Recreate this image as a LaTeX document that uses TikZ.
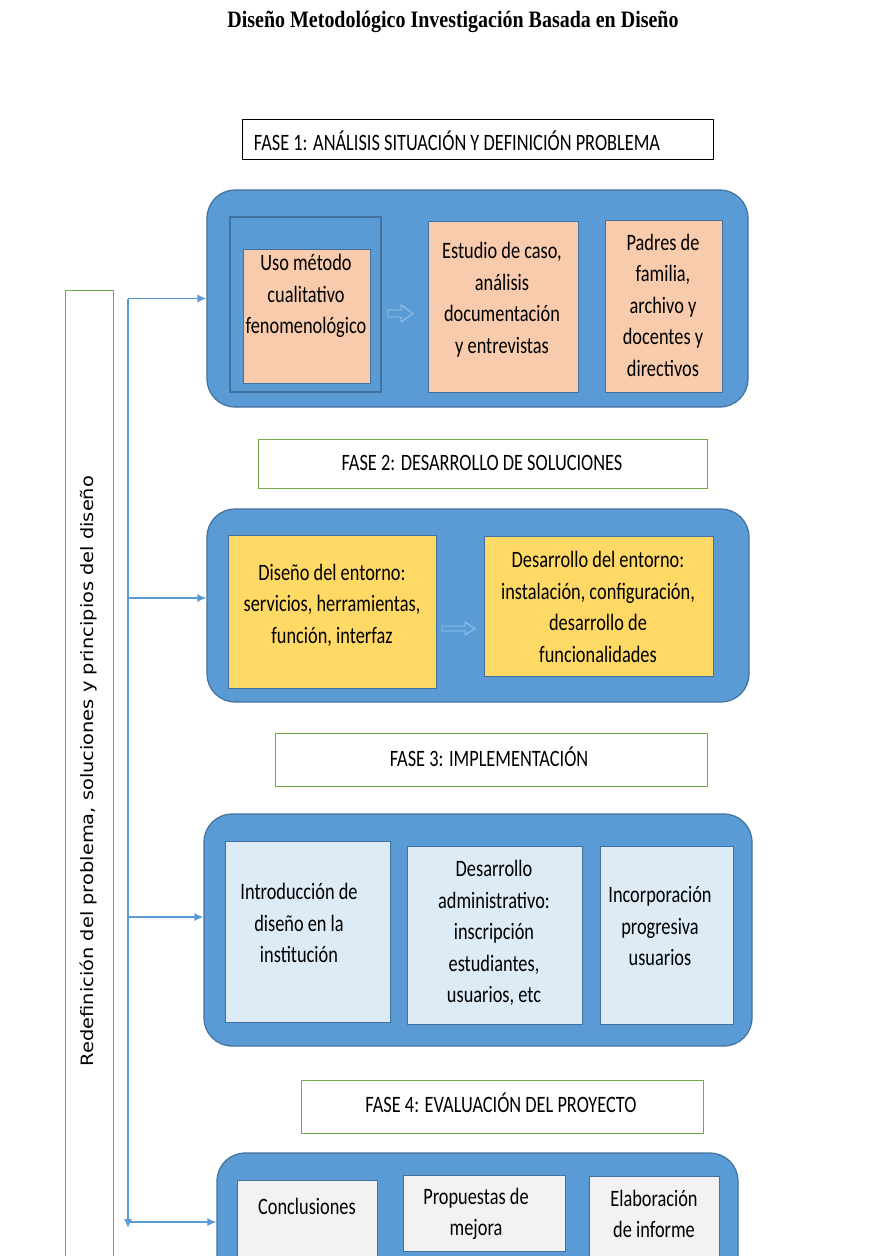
\documentclass[tikz,border=0pt]{standalone}
\usepackage{fontspec}
\setmainfont{Carlito}[FakeStretch=0.78]
\newfontfamily\titlefont{Liberation Serif}[FakeStretch=0.85]
\newfontfamily\sidefont{DejaVu Sans}[FakeStretch=1.14]
\usetikzlibrary{arrows.meta}
\definecolor{bfill}{HTML}{5B9BD5}
\definecolor{bdark}{HTML}{41719C}
\definecolor{salmon}{HTML}{F8CBAD}
\definecolor{yell}{HTML}{FFD966}
\definecolor{lblue}{HTML}{DDEBF7}
\definecolor{lgrey}{HTML}{F2F2F2}
\definecolor{fgreen}{HTML}{70AD47}
\definecolor{aline}{HTML}{9DC3E6}
\definecolor{conn}{HTML}{5B9BD5}
\begin{document}
\begin{tikzpicture}[x=1pt,y=-1pt,
  panel/.style={draw=bdark, fill=bfill, rounded corners=28pt, line width=1.2pt, minimum width=#1},
  inbox/.style={draw=bdark, line width=0.8pt, inner sep=0pt},
  fasebox/.style={draw=fgreen, line width=1pt, fill=white, inner sep=0pt},
  txt/.style={align=center, inner sep=0pt, font=\fontsize{23.5}{31.5}\selectfont},
  fasetxt/.style={inner sep=0pt, font=\fontsize{23.5}{26}\selectfont},
  link/.style={draw=conn, line width=1.3pt, -{Latex[length=9pt,width=8pt]}},
  hollow/.style={draw=aline, fill=bfill, line width=0.9pt}]
\useasboundingbox (0,0) rectangle (870,1256);
\clip (0,0) rectangle (870,1256);

% title
\node[inner sep=0pt, font=\titlefont\bfseries\fontsize{23.5}{26}\selectfont] (title) at (453,22) {Diseño Metodológico Investigación Basada en Diseño};

% FASE 1
\node[draw=black, line width=1pt, minimum width=471pt, minimum height=40pt, inner sep=0pt] (f1) at (477.5,139) {};
\node[fasetxt] (f1t) at (457,141) {FASE 1: ANÁLISIS SITUACIÓN Y DEFINICIÓN PROBLEMA};

% Panel 1
\node[panel=541pt, minimum height=217pt] (p1) at (477.5,298.5) {};
\node[inbox, fill=bfill, line width=1.2pt, minimum width=151pt, minimum height=175pt] (p1o) at (305.5,304.5) {};
\node[inbox, fill=salmon, minimum width=127pt, minimum height=134pt] (a1) at (306.5,316) {};
\node[txt] (a1t) at (306,296) {Uso método\\cualitativo\\fenomenológico};
\node[inbox, fill=salmon, minimum width=150pt, minimum height=171pt] (a2) at (503,306.5) {};
\node[txt] (a2t) at (502,299.5) {Estudio de caso,\\análisis\\documentación\\y entrevistas};
\node[inbox, fill=salmon, minimum width=117pt, minimum height=172pt] (a3) at (663.5,306) {};
\node[txt] (a3t) at (663,305) {Padres de\\familia,\\archivo y\\docentes y\\directivos};
\draw[hollow] (388,310) -- (401,310) -- (401,305) -- (413,313.5) -- (401,322) -- (401,317) -- (388,317) -- cycle;

% FASE 2
\node[fasebox, minimum width=449pt, minimum height=49pt] (f2) at (482.5,463.5) {};
\node[fasetxt] (f2t) at (482,463) {FASE 2: DESARROLLO DE SOLUCIONES};

% Panel 2
\node[panel=542pt, minimum height=193pt] (p2) at (478,605.5) {};
\node[inbox, fill=yell, minimum width=208pt, minimum height=153pt] (b1) at (332,611.5) {};
\node[txt] (b1t) at (332,605) {Diseño del entorno:\\servicios, herramientas,\\función, interfaz};
\node[inbox, fill=yell, minimum width=229pt, minimum height=140pt] (b2) at (598.5,606) {};
\node[txt] (b2t) at (598,607) {Desarrollo del entorno:\\instalación, configuración,\\desarrollo de\\funcionalidades};
\draw[hollow] (442,626) -- (465,626) -- (465,622) -- (475,628.5) -- (465,635) -- (465,631) -- (442,631) -- cycle;

% FASE 3
\node[fasebox, minimum width=432pt, minimum height=53pt] (f3) at (491,759.5) {};
\node[fasetxt] (f3t) at (489,757) {FASE 3: IMPLEMENTACIÓN};

% Panel 3
\node[panel=548pt, minimum height=232pt] (p3) at (478,930) {};
\node[inbox, fill=lblue, minimum width=165pt, minimum height=181pt] (c1) at (307.5,931.5) {};
\node[txt] (c1t) at (299,923) {Introducción de\\diseño en la\\institución};
\node[inbox, fill=lblue, minimum width=175pt, minimum height=178pt] (c2) at (494.5,935) {};
\node[txt] (c2t) at (494,933) {Desarrollo\\administrativo:\\inscripción\\estudiantes,\\usuarios, etc};
\node[inbox, fill=lblue, minimum width=133pt, minimum height=178pt] (c3) at (666.5,935) {};
\node[txt] (c3t) at (660,926) {Incorporación\\progresiva\\usuarios};

% FASE 4
\node[fasebox, minimum width=402pt, minimum height=53pt] (f4) at (502,1106.5) {};
\node[fasetxt] (f4t) at (501,1103) {FASE 4: EVALUACIÓN DEL PROYECTO};

% Panel 4
\node[panel=521pt, minimum height=160pt] (p4) at (477.5,1233) {};
\node[inbox, fill=lgrey, minimum width=140pt, minimum height=120pt] (d1) at (307,1240) {};
\node[txt] (d1t) at (307,1206) {Conclusiones};
\node[inbox, fill=lgrey, minimum width=162pt, minimum height=76pt] (d2) at (484,1213) {};
\node[txt] (d2t) at (476,1214) {Propuestas de\\mejora};
\node[inbox, fill=lgrey, minimum width=130pt, minimum height=120pt] (d3) at (654,1236) {};
\node[txt] (d3t) at (654,1214) {Elaboración\\de informe};

% side box
\node[draw=fgreen, line width=1pt, minimum width=48pt, minimum height=1010pt, inner sep=0pt] (side) at (89,795) {};
\node[rotate=90, inner sep=0pt, font=\sidefont\fontsize{17}{20}\selectfont] (sidet) at (88,771) {Redefinición del problema, soluciones y principios del diseño};

% connectors
\coordinate (s1) at (128,298.5);
\coordinate (s2) at (128,598);
\coordinate (s3) at (128,917);
\coordinate (s4) at (128,1222);
\coordinate (send) at (128,1228);
\draw[link] (s1) -- (send);
\draw[link] (s1) -- (s1 -| p1.west);
\draw[link] (s2) -- (s2 -| p2.west);
\draw[link] (s3) -- (s3 -| p3.west);
\draw[link] (s4) -- (s4 -| p4.west);
\end{tikzpicture}
\end{document}
